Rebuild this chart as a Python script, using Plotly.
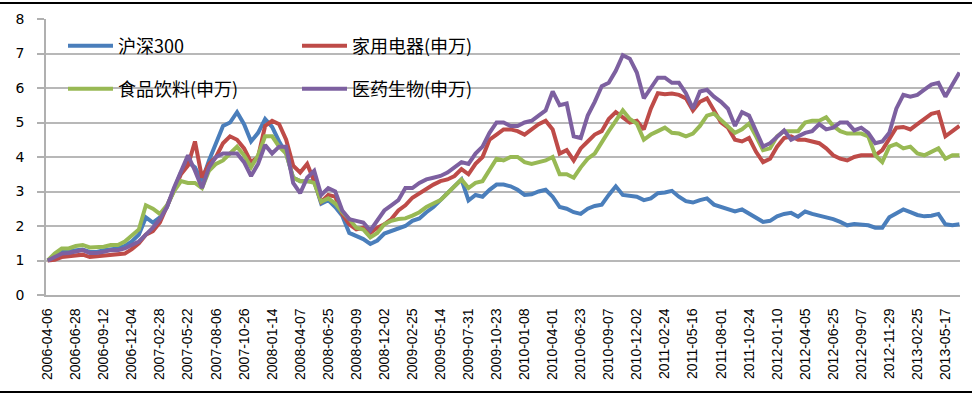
import plotly.graph_objects as go

# ---------------- data ----------------
tick_labels = [
    "2006-04-06", "2006-06-28", "2006-09-12", "2006-12-04", "2007-02-28",
    "2007-05-22", "2007-08-06", "2007-10-26", "2008-01-14", "2008-04-07",
    "2008-06-25", "2008-09-09", "2008-12-02", "2009-02-25", "2009-05-14",
    "2009-07-31", "2009-10-23", "2010-01-08", "2010-04-01", "2010-06-23",
    "2010-09-07", "2010-12-02", "2011-02-24", "2011-05-16", "2011-08-01",
    "2011-10-24", "2012-01-10", "2012-04-05", "2012-06-25", "2012-09-07",
    "2012-11-29", "2013-02-25", "2013-05-17",
]

# values sampled every quarter of a tick-label interval
hs300 = [
    1.00, 1.08, 1.25, 1.28, 1.30, 1.32, 1.25, 1.25, 1.30, 1.33,
    1.35, 1.42, 1.55, 1.75, 2.25, 2.10, 2.25, 2.55, 3.05, 3.55,
    3.85, 3.70, 3.30, 3.90, 4.40, 4.90, 5.00, 5.30, 4.95, 4.45,
    4.70, 5.10, 4.87, 4.45, 4.10, 3.40, 3.30, 3.30, 3.30, 2.65,
    2.75, 2.55, 2.30, 1.80, 1.70, 1.62, 1.48, 1.58, 1.78, 1.85,
    1.92, 2.00, 2.15, 2.22, 2.40, 2.55, 2.75, 2.95, 3.15, 3.35,
    2.74, 2.90, 2.85, 3.05, 3.20, 3.20, 3.15, 3.05, 2.90, 2.92,
    3.00, 3.05, 2.85, 2.55, 2.50, 2.40, 2.35, 2.50, 2.58, 2.62,
    2.90, 3.15, 2.90, 2.88, 2.85, 2.75, 2.80, 2.95, 2.97, 3.02,
    2.85, 2.72, 2.68, 2.75, 2.80, 2.62, 2.55, 2.48, 2.42, 2.48,
    2.35, 2.25, 2.12, 2.15, 2.28, 2.35, 2.38, 2.27, 2.42, 2.35,
    2.30, 2.25, 2.20, 2.12, 2.02, 2.06, 2.05, 2.02, 1.95, 1.95,
    2.25, 2.38, 2.48, 2.40, 2.32, 2.28, 2.30, 2.35, 2.05, 2.02,
    2.05,
]
jiadian = [
    1.00, 1.02, 1.10, 1.12, 1.15, 1.17, 1.10, 1.12, 1.15, 1.18,
    1.20, 1.20, 1.33, 1.50, 1.75, 1.85, 2.10, 2.55, 3.05, 3.50,
    3.75, 4.45, 3.40, 3.80, 4.00, 4.40, 4.60, 4.50, 4.25, 3.85,
    4.00, 4.90, 5.05, 4.95, 4.50, 3.75, 3.55, 3.80, 3.30, 2.70,
    2.90, 2.85, 2.35, 2.05, 1.90, 1.95, 1.80, 1.95, 2.05, 2.20,
    2.45, 2.60, 2.82, 2.95, 3.10, 3.20, 3.30, 3.35, 3.45, 3.65,
    3.50, 3.80, 4.00, 4.50, 4.65, 4.80, 4.80, 4.75, 4.65, 4.80,
    4.95, 5.05, 4.80, 4.10, 4.20, 3.90, 4.25, 4.45, 4.65, 4.75,
    5.10, 5.30, 5.15, 5.00, 5.05, 4.80, 5.40, 5.85, 5.82, 5.84,
    5.80, 5.70, 5.35, 5.60, 5.70, 5.35, 5.00, 4.85, 4.50, 4.45,
    4.55, 4.15, 3.85, 3.95, 4.30, 4.55, 4.60, 4.50, 4.50, 4.45,
    4.40, 4.25, 4.05, 3.95, 3.90, 4.00, 4.05, 4.05, 4.05, 4.20,
    4.50, 4.85, 4.87, 4.80, 4.95, 5.10, 5.25, 5.30, 4.60, 4.75,
    4.90,
]
shipin = [
    1.00, 1.20, 1.35, 1.35, 1.42, 1.45, 1.38, 1.38, 1.40, 1.45,
    1.45, 1.55, 1.72, 1.90, 2.60, 2.50, 2.35, 2.60, 3.00, 3.30,
    3.25, 3.25, 3.10, 3.60, 3.80, 3.90, 4.10, 4.30, 4.05, 3.70,
    4.05, 4.60, 4.60, 4.30, 4.10, 3.40, 3.30, 3.30, 3.25, 2.70,
    2.80, 2.65, 2.40, 2.20, 1.95, 1.90, 1.67, 1.80, 2.05, 2.15,
    2.20, 2.22, 2.30, 2.40, 2.55, 2.64, 2.75, 2.95, 3.15, 3.35,
    3.10, 3.25, 3.30, 3.60, 3.95, 3.90, 4.00, 4.00, 3.85, 3.80,
    3.85, 3.90, 4.00, 3.50, 3.50, 3.40, 3.70, 3.95, 4.10, 4.45,
    4.75, 5.05, 5.35, 5.10, 4.97, 4.50, 4.65, 4.75, 4.85, 4.70,
    4.68, 4.60, 4.68, 4.90, 5.20, 5.26, 5.06, 4.90, 4.70, 4.80,
    4.97, 4.60, 4.20, 4.25, 4.60, 4.75, 4.75, 4.75, 5.00, 5.05,
    5.05, 5.15, 4.90, 4.75, 4.68, 4.68, 4.68, 4.60, 4.05, 3.85,
    4.30, 4.38, 4.25, 4.30, 4.10, 4.05, 4.15, 4.25, 3.95, 4.05,
    4.05,
]
yiyao = [
    1.00, 1.10, 1.20, 1.22, 1.25, 1.30, 1.22, 1.22, 1.25, 1.30,
    1.30, 1.35, 1.45, 1.55, 1.75, 1.95, 2.20, 2.55, 3.10, 3.60,
    4.05, 3.60, 3.10, 3.70, 4.00, 4.10, 4.10, 4.10, 3.85, 3.45,
    3.80, 4.35, 4.10, 4.30, 4.30, 3.25, 2.95, 3.40, 3.60, 2.90,
    3.10, 3.00, 2.45, 2.20, 2.15, 2.10, 1.87, 2.15, 2.45, 2.60,
    2.75, 3.10, 3.10, 3.25, 3.35, 3.40, 3.45, 3.55, 3.70, 3.85,
    3.80, 4.10, 4.30, 4.70, 5.00, 5.00, 4.90, 4.90, 5.00, 5.05,
    5.20, 5.35, 5.90, 5.50, 5.55, 4.60, 4.55, 5.20, 5.60, 6.05,
    6.15, 6.50, 6.95, 6.85, 6.45, 5.70, 6.00, 6.30, 6.30, 6.15,
    6.15, 5.85, 5.40, 5.90, 5.95, 5.75, 5.60, 5.40, 4.90, 5.30,
    5.20, 4.75, 4.30, 4.40, 4.60, 4.77, 4.50, 4.60, 4.70, 4.75,
    4.95, 4.80, 4.85, 5.00, 5.00, 4.77, 4.85, 4.70, 4.40, 4.45,
    4.70, 5.40, 5.80, 5.75, 5.80, 5.95, 6.10, 6.15, 5.75, 6.10,
    6.45,
]

series_names = ["沪深300", "家用电器(申万)", "食品饮料(申万)", "医药生物(申万)"]
series_colors = ["#4A7EBB", "#BE4B48", "#98B954", "#7D60A0"]
series_values = [hs300, jiadian, shipin, yiyao]
series_legend = ["legend", "legend", "legend2", "legend2"]

SAMPLES_PER_TICK = 4
x_pos = [i / SAMPLES_PER_TICK for i in range(len(hs300))]

# ---------------- figure ----------------
W, H = 972, 396
ML, MR, MT, MB = 46, 12, 19, 101
PW, PH = W - ML - MR, H - MT - MB

fig = go.Figure()
for name, col, vals, lg in zip(series_names, series_colors, series_values, series_legend):
    fig.add_trace(go.Scatter(
        x=x_pos, y=vals, mode="lines", name=name, legend=lg,
        line=dict(color=col, width=4, shape="linear"),
    ))

legend_common = dict(
    orientation="h", xanchor="left", yanchor="middle",
    bgcolor="rgba(0,0,0,0)", borderwidth=0,
    font=dict(family="Noto Sans CJK SC", size=18, color="#000000"),
    itemwidth=45, entrywidth=174, entrywidthmode="pixels",
    traceorder="normal",
)

fig.update_layout(
    width=W, height=H,
    margin=dict(l=ML, r=MR, t=MT, b=MB, pad=0),
    paper_bgcolor="white", plot_bgcolor="white",
    showlegend=True,
    legend=dict(x=(63 - ML) / PW, y=(H - MB - 46) / PH, **legend_common),
    legend2=dict(x=(63 - ML) / PW, y=(H - MB - 89) / PH, **legend_common),
    xaxis=dict(
        range=[-0.06, 32.52],
        tickmode="array", tickvals=list(range(len(tick_labels))), ticktext=tick_labels,
        tickangle=-90, showgrid=False, zeroline=False,
        showline=True, linecolor="#B0B0B0", linewidth=1.5,
        ticks="", ticklabelstandoff=6,
        tickfont=dict(family="Liberation Sans", size=14, color="#000000"),
    ),
    yaxis=dict(
        range=[0, 8], dtick=1, tick0=0,
        showgrid=True, gridcolor="#B8B8B8", gridwidth=1.5,
        zeroline=False, showline=True, linecolor="#B0B0B0", linewidth=1.5,
        ticks="outside", ticklen=7, tickcolor="#B0B0B0", tickwidth=1.5,
        ticklabelstandoff=10,
        tickfont=dict(family="DejaVu Sans", size=14, color="#000000"),
    ),
    shapes=[
        dict(type="line", xref="paper", yref="paper",
             x0=-ML / PW, x1=(W - ML) / PW,
             y0=(H - MB - 3) / PH, y1=(H - MB - 3) / PH,
             line=dict(color="#000000", width=2)),
        dict(type="line", xref="paper", yref="paper",
             x0=-ML / PW, x1=(W - ML) / PW,
             y0=(H - MB - 392) / PH, y1=(H - MB - 392) / PH,
             line=dict(color="#000000", width=2)),
    ],
)

fig.write_html(
    "out.html",
    config={"displayModeBar": False},
    post_script="document.body.style.margin='0';document.body.style.overflow='hidden';",
)
